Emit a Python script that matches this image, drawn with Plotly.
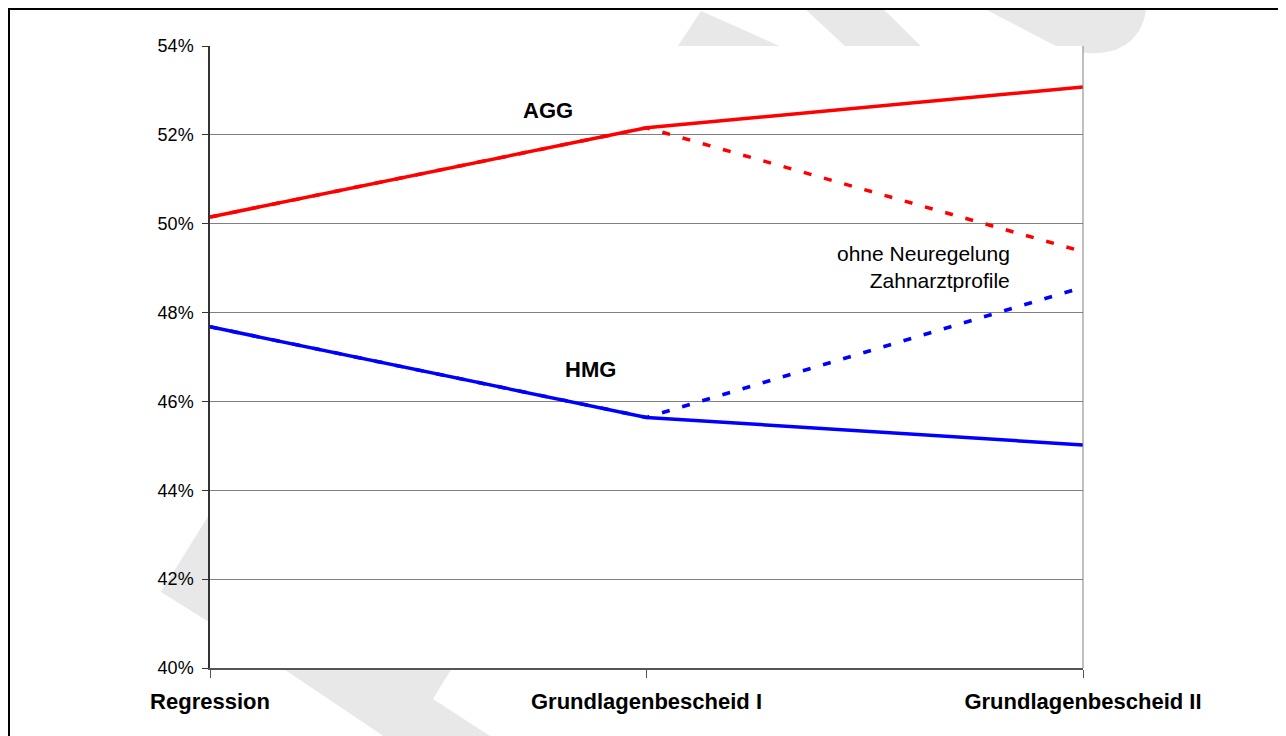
import plotly.graph_objects as go

# data
stages = ["Regression", "Grundlagenbescheid I", "Grundlagenbescheid II"]
agg = [0.5015, 0.5216, 0.5308]
agg_ohne = [0.5015, 0.5216, 0.4937]
hmg = [0.4768, 0.4564, 0.4502]
hmg_ohne = [0.4768, 0.4564, 0.4857]
y_ticks = [0.40, 0.42, 0.44, 0.46, 0.48, 0.50, 0.52, 0.54]

W, H = 1286, 736
OFF = 8  # page body margin
# plot area in screen pixels
L, R, T, B = 210, 1083, 46, 668
FONT = "Arial, Liberation Sans, sans-serif"


def pp(x, y):
    # screen pixel -> paper coords
    return (x - L) / (R - L), (B - y) / (B - T)


def poly(points):
    pts = [pp(x, y) for x, y in points]
    return "M " + " L ".join(f"{a:.4f},{b:.4f}" for a, b in pts) + " Z"


fig = go.Figure()

# dashed ("ohne Neuregelung") first so the solid lines sit on top
fig.add_trace(go.Scatter(x=stages, y=agg_ohne, mode="lines",
                         line=dict(color="#ff0000", width=3.5, dash="8px,13px")))
fig.add_trace(go.Scatter(x=stages, y=hmg_ohne, mode="lines",
                         line=dict(color="#0000ff", width=3.5, dash="8px,13px")))
fig.add_trace(go.Scatter(x=stages, y=agg, mode="lines",
                         line=dict(color="#ff0000", width=3.5)))
fig.add_trace(go.Scatter(x=stages, y=hmg, mode="lines",
                         line=dict(color="#0000ff", width=3.5)))

# watermark pieces (light grey, hidden behind the white plot area)
wm = "#e8e8e8"
shapes = []
for pts in [
    [(161, 592), (240, 465), (260, 654)],
    [(260, 653), (470, 638), (452, 668), (433, 699), (530, 762), (422, 762)],
    [(701, 11), (800, 55), (662, 70)],
    [(790, -5), (869, -5), (935, 60), (860, 60)],
]:
    shapes.append(dict(type="path", path=poly(pts), xref="paper", yref="paper",
                       fillcolor=wm, line=dict(width=0), layer="below"))

p = [pp(x, y) for x, y in [(958, -5), (1050, 43), (1075, 55), (1100, 55), (1115, 50),
                           (1140, 40), (1147, 20), (1147, -5)]]
path = (f"M {p[0][0]:.4f},{p[0][1]:.4f} L {p[1][0]:.4f},{p[1][1]:.4f} "
        f"C {p[2][0]:.4f},{p[2][1]:.4f} {p[3][0]:.4f},{p[3][1]:.4f} {p[4][0]:.4f},{p[4][1]:.4f} "
        f"C {p[5][0]:.4f},{p[5][1]:.4f} {p[6][0]:.4f},{p[6][1]:.4f} {p[7][0]:.4f},{p[7][1]:.4f} Z")
shapes.append(dict(type="path", path=path, xref="paper", yref="paper",
                   fillcolor=wm, line=dict(width=0), layer="below"))

# white plot area covering the watermark
shapes.append(dict(type="rect", xref="paper", yref="paper", x0=0, x1=1, y0=0, y1=1,
                   fillcolor="white", line=dict(width=0), layer="below"))
# grey right border of plot area
shapes.append(dict(type="line", xref="paper", yref="paper", x0=1, x1=1, y0=0, y1=1,
                   line=dict(color="#808080", width=1)))
# outer black frame
fx0, fy0 = pp(9, 9)
fx1, fy1 = pp(1285, 760)
shapes.append(dict(type="rect", xref="paper", yref="paper", x0=fx0, x1=fx1, y0=fy1, y1=fy0,
                   line=dict(color="black", width=2), fillcolor="rgba(0,0,0,0)", layer="below"))

annotations = [
    dict(x=0.774, y=0.5254, text="<b>AGG</b>", showarrow=False,
         font=dict(size=22, color="black")),
    dict(x=0.872, y=0.4671, text="<b>HMG</b>", showarrow=False,
         font=dict(size=22, color="black")),
    dict(x=1.837, y=0.4903, text="ohne Neuregelung<br>Zahnarztprofile", showarrow=False,
         xanchor="right", align="right", font=dict(size=21, color="black")),
]

fig.update_layout(
    width=W, height=H,
    margin=dict(l=L - OFF, r=W - R + OFF, t=T - OFF, b=H - B + OFF),
    paper_bgcolor="white", plot_bgcolor="white",
    showlegend=False,
    font=dict(family=FONT, color="black"),
    shapes=shapes,
    annotations=annotations,
)
fig.update_xaxes(
    type="category", range=[0, 2],
    showgrid=False, zeroline=False,
    showline=True, linecolor="#555555", linewidth=2,
    ticks="outside", ticklen=8, tickcolor="#555555",
    tickfont=dict(size=22, family=FONT), ticklabelstandoff=5,
    tickvals=stages, ticktext=[f"<b>{s}</b>" for s in stages],
)
fig.update_yaxes(
    range=[0.40, 0.54], tickvals=y_ticks, tickformat=".0%",
    showgrid=True, gridcolor="#808080", gridwidth=1,
    zeroline=False,
    showline=True, linecolor="#333333", linewidth=1.5,
    ticks="outside", ticklen=6, tickcolor="#333333",
    tickfont=dict(size=18, family=FONT), ticklabelstandoff=5,
)

fig.write_html("out.html")
